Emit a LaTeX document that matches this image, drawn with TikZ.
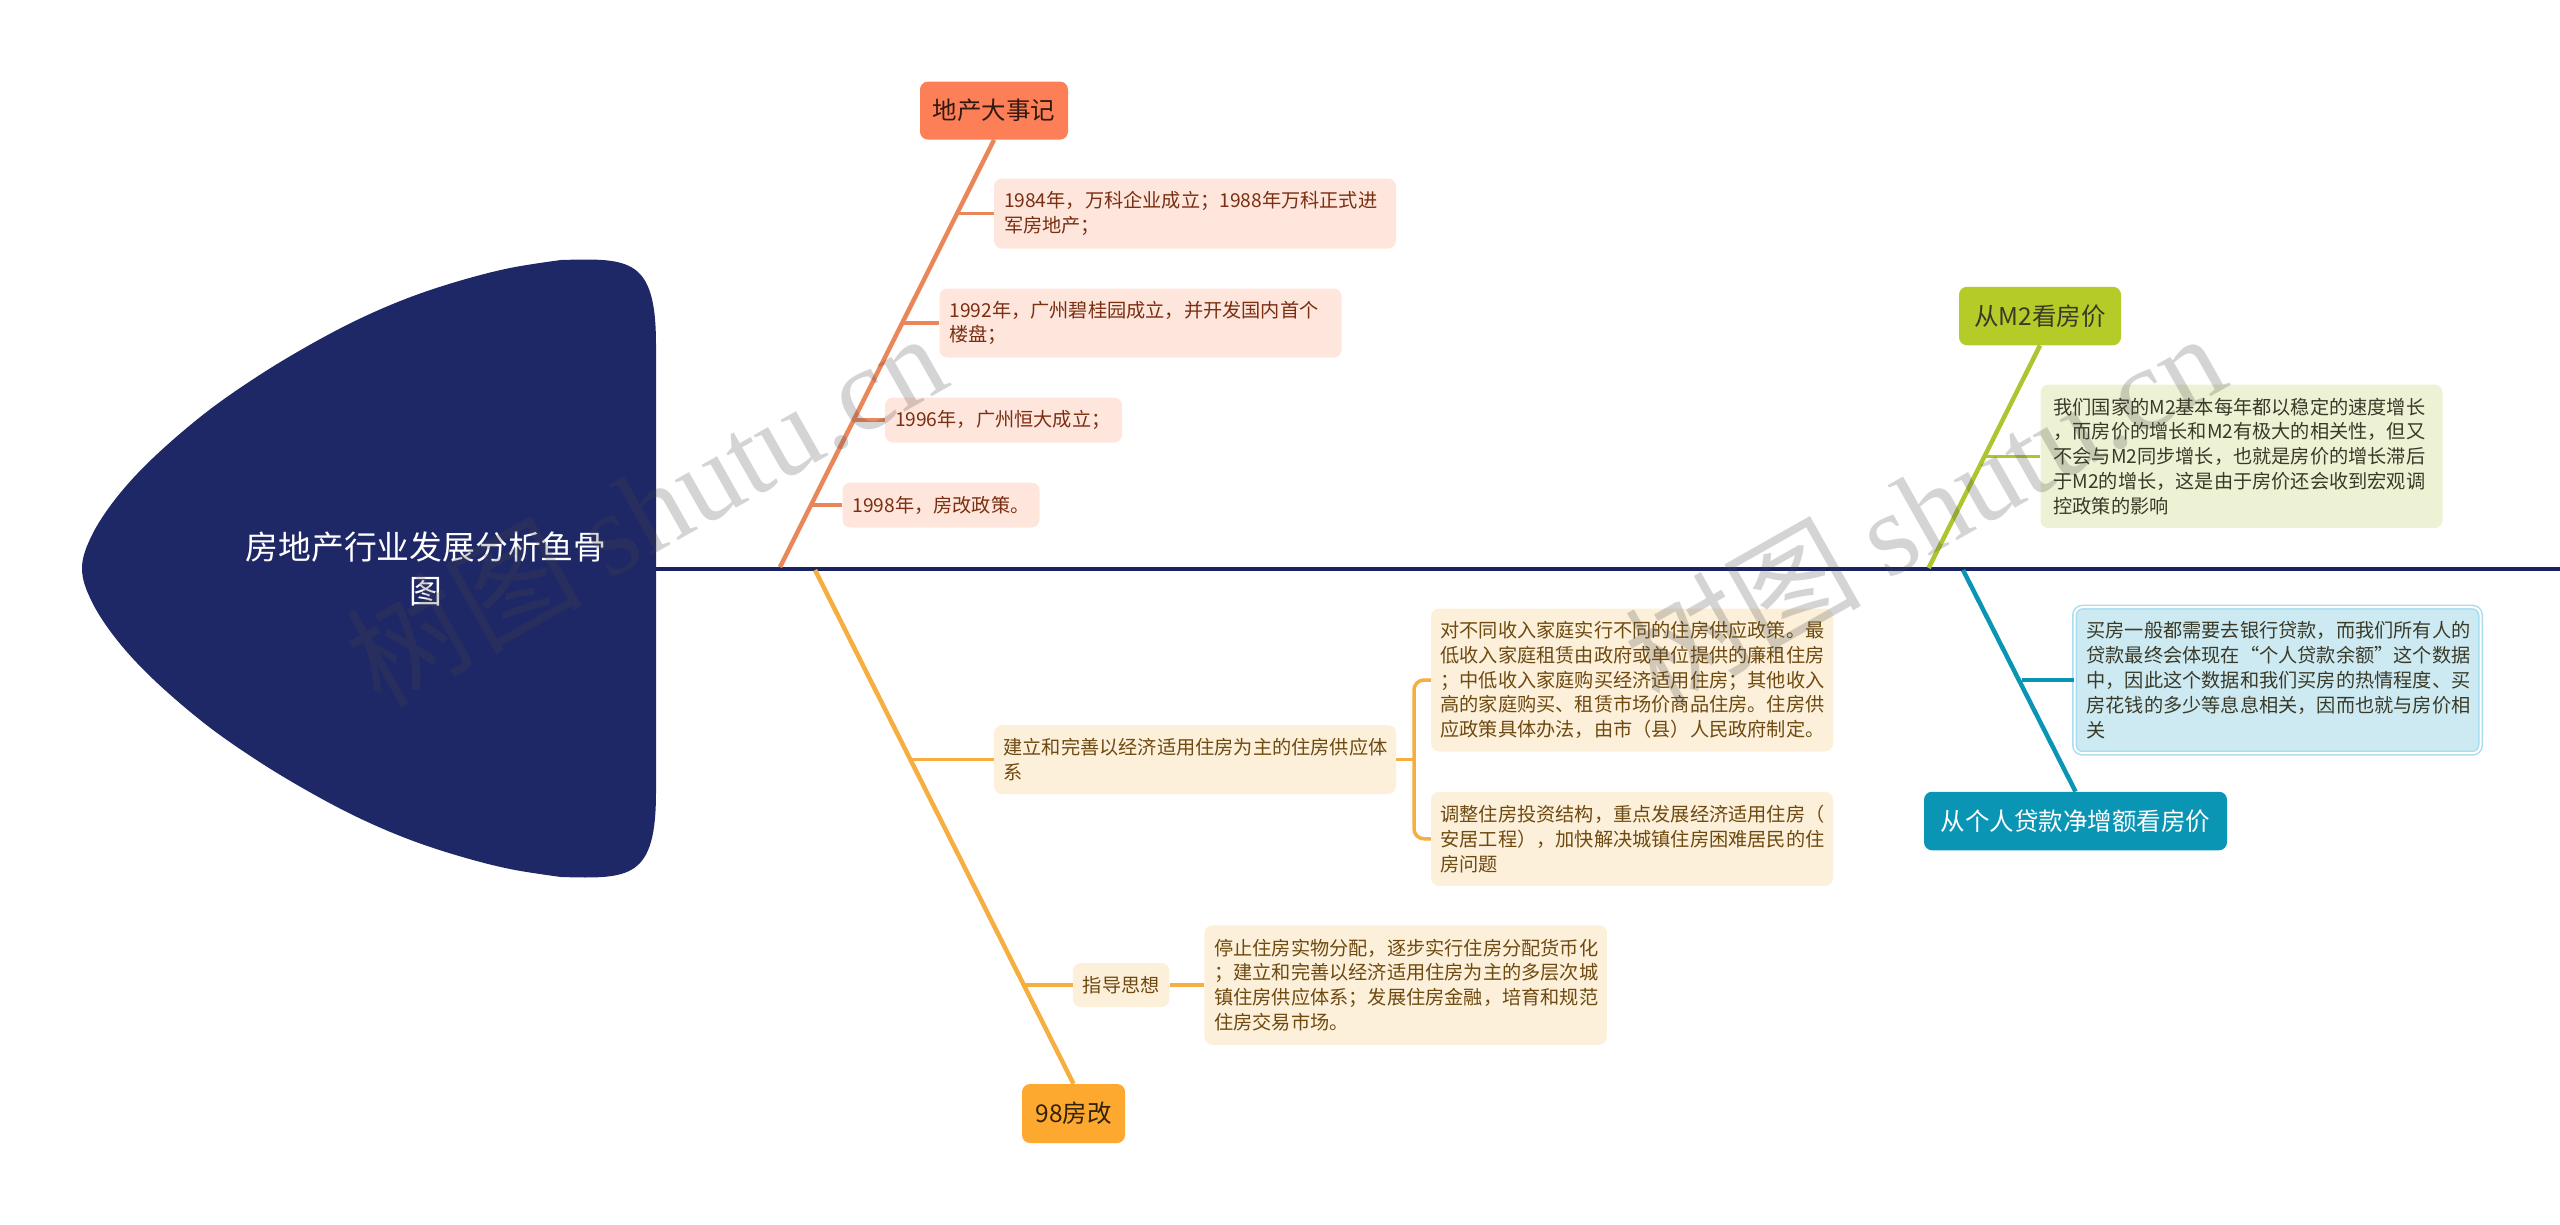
\documentclass[tikz,border=0pt]{standalone}
\usepackage{fontspec}
\setmainfont{Noto Sans CJK SC}
\newfontfamily\wmlatin{Liberation Serif}
\definecolor{navy}{HTML}{1F2866}
\definecolor{spinec}{HTML}{1A2263}
\definecolor{orgA}{HTML}{FC7F57}
\definecolor{orgL}{HTML}{E9875B}
\definecolor{orgB}{HTML}{FFE6DC}
\definecolor{orgT}{HTML}{7A2E12}
\definecolor{ambA}{HTML}{FDA92F}
\definecolor{ambL}{HTML}{F5AE3F}
\definecolor{ambB}{HTML}{FDF0DA}
\definecolor{ambT}{HTML}{6E4A10}
\definecolor{grnA}{HTML}{B5CB28}
\definecolor{grnL}{HTML}{AEC52F}
\definecolor{grnB}{HTML}{EEF2D4}
\definecolor{bluA}{HTML}{0A95B5}
\definecolor{bluB}{HTML}{CDEAF2}
\definecolor{bluE}{HTML}{A8DDF0}
\definecolor{txtD}{HTML}{3A3A28}
\definecolor{wmgray}{HTML}{464646}
\tikzset{
  x=1pt,y=-1pt,
  mainbox/.style={rounded corners=8pt,inner sep=0pt,align=center,font=\fontsize{24.5}{30}\selectfont},
  subbox/.style={rounded corners=8pt,inner sep=0pt,align=left,font=\fontsize{19.2}{24.8}\selectfont},
  bone/.style={line width=4.5pt},
  twig/.style={line width=3.5pt},
  wm/.style={rotate=29.5,text=wmgray,opacity=0.23,inner sep=0pt,font=\fontsize{118}{118}\selectfont}
}
\begin{document}
\begin{tikzpicture}
\useasboundingbox (0,0) rectangle (2560,1224);
% head
\fill[navy] (656,345) .. controls (656,258) and (630,258) .. (561,260)
 -- plot[smooth,tension=0.6] coordinates {(561,260)(510,268)(459,281)(408,298)(357,320)(306,347)(255,378)(204,414)(153,458)(117,497)(92,535)(82,568.5)(92,602)(117,640)(153,679)(204,723)(255,759)(306,790)(357,817)(408,839)(459,856)(510,869)(561,877)}
 .. controls (630,879) and (656,879) .. (656,792) -- cycle;
\node[text=white,align=center,inner sep=0pt,font=\fontsize{32.8}{44.5}\selectfont] (title) at (426,569) {房地产行业发展分析鱼骨\\图};
% spine
\coordinate (spineA) at (656,568.5);
\coordinate (spineB) at (2560,568.5);
\draw[spinec,line width=4pt] (spineA) -- (spineB);
% orange branch
\node[mainbox,fill=orgA,text=black!80!orgA,minimum width=148pt,minimum height=58pt] (dc) at (994,110.6) {地产大事记};
\coordinate (dcroot) at (780,567);
\draw[bone,orgL] (dc.south) -- (dcroot);
\node[subbox,fill=orgB,text=orgT,minimum width=402pt,minimum height=70pt,text width=382pt] (e84) at (1195,213.5) {1984年，万科企业成立；1988年万科正式进\\军房地产；};
\node[subbox,fill=orgB,text=orgT,minimum width=402pt,minimum height=69pt,text width=382pt] (e92) at (1140.5,323) {1992年，广州碧桂园成立，并开发国内首个\\楼盘；};
\node[subbox,fill=orgB,text=orgT,minimum width=237pt,minimum height=45pt,text width=217pt] (e96) at (1003.5,420) {1996年，广州恒大成立；};
\node[subbox,fill=orgB,text=orgT,minimum width=197pt,minimum height=45pt,text width=177pt] (e98) at (941,505) {1998年，房改政策。};
\coordinate (j84) at (958,213.5);
\coordinate (j92) at (902,323);
\coordinate (j96) at (851.5,420);
\coordinate (j98) at (811,505);
\draw[twig,orgL] (j84) -- (e84.west);
\draw[twig,orgL] (j92) -- (e92.west);
\draw[twig,orgL] (j96) -- (e96.west);
\draw[twig,orgL] (j98) -- (e98.west);
% amber branch
\node[mainbox,fill=ambA,text=black!80!ambA,minimum width=103pt,minimum height=59pt] (fg) at (1073.5,1113.5) {98房改};
\coordinate (fgroot) at (815,570);
\draw[bone,ambL] (fgroot) -- (fg.north);
\node[subbox,fill=ambB,text=ambT,minimum width=402pt,minimum height=69pt,text width=383pt] (jl) at (1195,759.5) {建立和完善以经济适用住房为主的住房供应体\\系};
\node[subbox,fill=ambB,text=ambT,minimum width=402pt,minimum height=143pt,text width=383pt] (up) at (1632,680) {对不同收入家庭实行不同的住房供应政策。最\\低收入家庭租赁由政府或单位提供的廉租住房\\；中低收入家庭购买经济适用住房；其他收入\\高的家庭购买、租赁市场价商品住房。住房供\\应政策具体办法，由市（县）人民政府制定。};
\node[subbox,fill=ambB,text=ambT,minimum width=402pt,minimum height=94pt,text width=383pt] (lo) at (1632,838.8) {调整住房投资结构，重点发展经济适用住房（\\安居工程），加快解决城镇住房困难居民的住\\房问题};
\node[subbox,fill=ambB,text=ambT,minimum width=96.5pt,minimum height=44pt,align=center] (zd) at (1121.2,985) {指导思想};
\node[subbox,fill=ambB,text=ambT,minimum width=402.5pt,minimum height=119.5pt,text width=383pt] (tz) at (1405.7,985) {停止住房实物分配，逐步实行住房分配货币化\\；建立和完善以经济适用住房为主的多层次城\\镇住房供应体系；发展住房金融，培育和规范\\住房交易市场。};
\coordinate (jjl) at (911,759.5);
\coordinate (jzd) at (1021.5,985);
\coordinate (jb) at (1414,759.5);
\draw[twig,ambL] (jjl) -- (jl.west);
\draw[twig,ambL] (jl.east) -- (jb);
\draw[twig,ambL,rounded corners=10pt] (up.west) -| (jb) |- (lo.west);
\draw[twig,ambL] (jzd) -- (zd.west);
\draw[twig,ambL] (zd.east) -- (tz.west);
% green branch
\node[mainbox,fill=grnA,text=txtD,minimum width=162pt,minimum height=58.5pt] (m2) at (2040,316) {从M2看房价};
\coordinate (m2root) at (1928.6,568);
\draw[bone,grnL] (m2.south) -- (m2root);
\node[subbox,fill=grnB,text=txtD,minimum width=402pt,minimum height=143.5pt,text width=376pt] (m2t) at (2241.5,456.3) {我们国家的M2基本每年都以稳定的速度增长\\，而房价的增长和M2有极大的相关性，但又\\不会与M2同步增长，也就是房价的增长滞后\\于M2的增长，这是由于房价还会收到宏观调\\控政策的影响};
\coordinate (jm2) at (1984,456.3);
\draw[twig,grnL] (jm2) -- (m2t.west);
% blue branch
\node[mainbox,fill=bluA,text=white,minimum width=303pt,minimum height=58.5pt] (gr) at (2075.5,821) {从个人贷款净增额看房价};
\coordinate (grroot) at (1963,570);
\draw[bone,bluA] (grroot) -- (gr.north);
\node[subbox,fill=bluB,text=txtD,draw=bluE,line width=1.5pt,double=white,double distance=2pt,minimum width=406pt,minimum height=146pt,text width=382pt] (grt) at (2277.5,680.2) {买房一般都需要去银行贷款，而我们所有人的\\贷款最终会体现在“个人贷款余额”这个数据\\中，因此这个数据和我们买房的热情程度、买\\房花钱的多少等息息相关，因而也就与房价相\\关};
\coordinate (jgr) at (2022,680.2);
\draw[twig,bluA] (jgr) -- (grt.west);
% watermark
\node[wm] (wm1) at (645,508) {树图 {\wmlatin shutu.cn}};
\node[wm] (wm2) at (1924,508) {树图 {\wmlatin shutu.cn}};
\end{tikzpicture}
\end{document}
